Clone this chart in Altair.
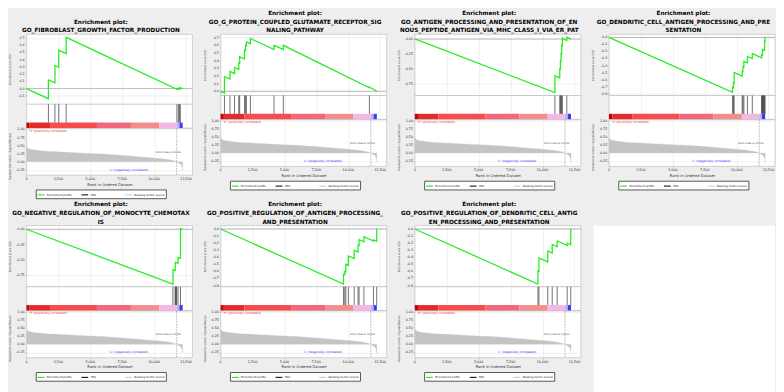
import altair as alt
import pandas as pd

FONT = "DejaVu Sans"
GREEN = "#22ee22"
HIT_COLOR = "#333333"
AREA_FILL = "#c4c4c4"

RANK_MAX = 13000
RANK_TICKS = [0, 2500, 5000, 7500, 10000, 12500]

# ranked list metric (same ranked list for every panel)
METRIC_RANK = [0, 50, 150, 300, 600, 1000, 1500, 2500, 3500, 5000, 6000, 7500,
               9000, 10000, 10800, 11300, 11600, 11760, 11900, 12050, 12150, 12200, 12230]
METRIC_VALUE = [0.47, 0.44, 0.41, 0.39, 0.37, 0.35, 0.33, 0.31, 0.29, 0.26, 0.24, 0.20,
                0.15, 0.12, 0.09, 0.06, 0.03, 0.00, -0.03, -0.07, -0.12, -0.20, -0.28]
ZERO_CROSS = 11760

# colour bar segments (rank start / end)
BAR_START = [0, 250, 1850, 5520, 8180, 10400, 11770, 11980]
BAR_END = [250, 1850, 5520, 8180, 10400, 11770, 11980, 12230]
BAR_COLORS = ["#c80000", "#e52a2a", "#f64c4c", "#f2687a", "#f58c8c", "#f5b8e6", "#b4b4f4", "#3a3af0"]

LEGEND_LABELS = ["Enrichment profile", "Hits", "Ranking metric scores"]
LEGEND_COLORS = [GREEN, "#222222", "#cfcfcf"]

TITLES = [
    ["Enrichment plot:", "GO_FIBROBLAST_GROWTH_FACTOR_PRODUCTION"],
    ["Enrichment plot:", "GO_G_PROTEIN_COUPLED_GLUTAMATE_RECEPTOR_SIG", "NALING_PATHWAY"],
    ["Enrichment plot:", "GO_ANTIGEN_PROCESSING_AND_PRESENTATION_OF_EN",
     "NOUS_PEPTIDE_ANTIGEN_VIA_MHC_CLASS_I_VIA_ER_PAT"],
    ["Enrichment plot:", "GO_DENDRITIC_CELL_ANTIGEN_PROCESSING_AND_PRE", "SENTATION"],
    ["Enrichment plot:", "GO_NEGATIVE_REGULATION_OF_MONOCYTE_CHEMOTAX", "IS"],
    ["Enrichment plot:", "GO_POSITIVE_REGULATION_OF_ANTIGEN_PROCESSING_", "AND_PRESENTATION"],
    ["Enrichment plot:", "GO_POSITIVE_REGULATION_OF_DENDRITIC_CELL_ANTIG",
     "EN_PROCESSING_AND_PRESENTATION"],
]

ES1_RANK = [0, 1720, 1720, 2230, 2230, 2530, 2530, 3110, 3110, 11780, 11780, 11900, 11900,
            11980, 11980, 12050, 12050, 12230]
ES1_SCORE = [0.0, -0.14, 0.12, 0.08, 0.32, 0.295, 0.53, 0.485, 0.71, -0.01, 0.0, -0.01, 0.002,
             -0.005, 0.007, 0.001, 0.012, 0.0]
HITS1 = [1720, 2230, 2530, 3110, 11780, 11900, 11980, 12050]

ES2_RANK = [0, 300, 300, 730, 730, 1090, 1090, 1420, 1420, 1490, 1490, 1870, 1870, 1950, 1950,
            2020, 2020, 2330, 2330, 4180, 4180, 4910, 4910, 11650, 11650, 12230]
ES2_SCORE = [0.0, -0.025, 0.19, 0.16, 0.26, 0.23, 0.31, 0.285, 0.37, 0.365, 0.45, 0.42, 0.54,
             0.535, 0.60, 0.595, 0.645, 0.62, 0.69, 0.545, 0.60, 0.545, 0.60, 0.045, 0.055, 0.0]
HITS2 = [300, 730, 1090, 1420, 1490, 1870, 1950, 2020, 2330, 4180, 4910, 11650]

ES3_RANK = [0, 10970, 10970, 11350, 11350, 11400, 11400, 11450, 11450, 11500, 11500, 11550,
            11550, 11900, 11900, 12230]
ES3_SCORE = [0.0, -0.893, -0.612, -0.648, -0.50, -0.505, -0.37, -0.375, -0.24, -0.245, -0.11,
             -0.115, 0.015, -0.025, 0.03, 0.0]
HITS3 = [10970, 11350, 11400, 11450, 11500, 11550, 11900]

ES4_RANK = [0, 9670, 9670, 9745, 9745, 9800, 9800, 10430, 10430, 10485, 10485, 10560, 10560,
            10840, 10840, 11220, 11220, 11940, 11940, 12020, 12020, 12180, 12180, 12220, 12220, 12230]
ES4_SCORE = [0.0, -0.78, -0.71, -0.716, -0.645, -0.65, -0.50, -0.55, -0.48, -0.485, -0.42,
             -0.426, -0.34, -0.36, -0.27, -0.30, -0.23, -0.29, -0.25, -0.256, -0.17, -0.183,
             -0.05, -0.053, 0.0, 0.0]
HITS4 = [9670, 9745, 9800, 10430, 10485, 10560, 10840, 11220, 11940, 11980, 12020, 12060,
         12100, 12140, 12180, 12220]

ES5_RANK = [0, 11470, 11470, 11650, 11650, 11870, 11870, 12060, 12060, 12230]
ES5_SCORE = [0.0, -0.895, -0.66, -0.675, -0.54, -0.555, -0.46, -0.475, 0.012, 0.0]
HITS5 = [11470, 11640, 11680, 11720, 11760, 11870, 12060]

ES6_RANK = [0, 9620, 9620, 9720, 9720, 9800, 9800, 10000, 10000, 10460, 10460, 10760, 10760,
            10840, 10840, 11220, 11220, 11970, 11970, 12220, 12220, 12230]
ES6_SCORE = [0.0, -0.78, -0.64, -0.648, -0.60, -0.607, -0.50, -0.516, -0.38, -0.418, -0.30,
             -0.325, -0.23, -0.236, -0.15, -0.18, -0.11, -0.17, -0.155, -0.175, 0.0, 0.0]
HITS6 = [9620, 9720, 9800, 10000, 10460, 10760, 10840, 11220, 11970, 12220]

ES7_RANK = [0, 9640, 9640, 9720, 9720, 10410, 10410, 10760, 10760, 11150, 11150, 11930, 11930,
            12210, 12210, 12230]
ES7_SCORE = [0.0, -0.78, -0.59, -0.597, -0.41, -0.466, -0.31, -0.339, -0.22, -0.252, -0.17,
             -0.234, -0.20, -0.223, 0.0, 0.0]
HITS7 = [9640, 9720, 10410, 10760, 11150, 11930, 12210]

ES_RANKS = [ES1_RANK, ES2_RANK, ES3_RANK, ES4_RANK, ES5_RANK, ES6_RANK, ES7_RANK]
ES_SCORES = [ES1_SCORE, ES2_SCORE, ES3_SCORE, ES4_SCORE, ES5_SCORE, ES6_SCORE, ES7_SCORE]
HITS = [HITS1, HITS2, HITS3, HITS4, HITS5, HITS6, HITS7]

ES_DOMAINS = [[-0.217, 0.752], [-0.056, 0.744], [-0.94, 0.077], [-0.826, 0.044],
              [-0.94, 0.06], [-0.817, 0.048], [-0.817, 0.048]]
TICKS_POS1 = [-0.1, 0.0, 0.1, 0.2, 0.3, 0.4, 0.5, 0.6, 0.7]
TICKS_POS2 = [0.0, 0.1, 0.2, 0.3, 0.4, 0.5, 0.6, 0.7]
TICKS_Q = [0.0, -0.25, -0.5, -0.75]
TICKS_NEG = [0.0, -0.1, -0.2, -0.3, -0.4, -0.5, -0.6, -0.7, -0.8]
ES_TICKS = [TICKS_POS1, TICKS_POS2, TICKS_Q, TICKS_NEG, TICKS_Q, TICKS_NEG, TICKS_NEG]
ES_FORMATS = [".1f", ".1f", ".2f", ".1f", ".2f", ".1f", ".1f"]
METRIC_TICKS = [1.0, 0.75, 0.5, 0.25, 0.0, -0.25]

# ---- layout sizes ----
W = 171
ES_H_2LINE = 72
ES_H_3LINE = 63
HITS_H = 24.5
RANK_H = 48
TITLE_X = -15
LBL = 3.4
LBL_COLOR = "#2a2a2a"

xscale = alt.Scale(domain=[0, RANK_MAX], nice=False, zero=False)
hidden_x = alt.Axis(values=RANK_TICKS, labels=False, ticks=False, domain=False, title=None, grid=True)


def y_labels(values, scale, fmt, axis):
    # tick labels of a y axis, placed through the y scale
    return alt.Chart(pd.DataFrame({"v": values})).mark_text(
        align="right", baseline="middle", fontSize=LBL, font=FONT, color=LBL_COLOR, dx=-1.8
    ).encode(
        y=alt.Y("v:Q", scale=scale, axis=axis),
        x=alt.value(0),
        text=alt.Text("v:Q", format=fmt),
    )


def make_panel(k):
    es_df = pd.DataFrame({"r": ES_RANKS[k], "es": ES_SCORES[k], "i": list(range(len(ES_RANKS[k])))})
    es_h = ES_H_2LINE if len(TITLES[k]) == 2 else ES_H_3LINE
    yscale = alt.Scale(domain=ES_DOMAINS[k], nice=False, zero=False)
    es_axis = alt.Axis(values=ES_TICKS[k], labels=False, title="Enrichment score (ES)",
                       titleX=TITLE_X, titleFontSize=2.9, tickSize=1.2, grid=True)
    zero_rule = alt.Chart(pd.DataFrame({"z": [0]})).mark_rule(color="#8a8a8a", strokeWidth=0.6).encode(
        y=alt.YDatum(0, scale=yscale)
    )
    line = alt.Chart(es_df).mark_line(color=GREEN, strokeWidth=1.3).encode(
        x=alt.X("r:Q", scale=xscale, axis=hidden_x),
        y=alt.Y("es:Q", scale=yscale, axis=es_axis),
        order="i:Q",
    )
    es_lbl = y_labels(ES_TICKS[k], yscale, ES_FORMATS[k], es_axis)
    es = alt.layer(zero_rule, line, es_lbl).properties(width=W, height=es_h)

    bar_df = pd.DataFrame({"s": BAR_START, "e": BAR_END, "c": BAR_COLORS})
    hit_df = pd.DataFrame({"h": HITS[k]})
    hscale = alt.Scale(domain=[0, 1], nice=False, zero=False)
    bar = alt.Chart(bar_df).mark_rect(strokeWidth=0).encode(
        x=alt.X("s:Q", scale=xscale, axis=hidden_x),
        x2="e:Q",
        y=alt.YDatum(0, scale=hscale, axis=None),
        y2=alt.datum(0.23),
        color=alt.Color("c:N", scale=None),
    )
    hits = alt.Chart(hit_df).mark_rule(color=HIT_COLOR, strokeWidth=0.7).encode(
        x=alt.X("h:Q", scale=xscale, axis=hidden_x),
        y=alt.YDatum(0.23, scale=hscale, axis=None),
        y2=alt.datum(1.0),
    )
    hits_panel = alt.layer(bar, hits).properties(width=W, height=HITS_H)

    rank_df = pd.DataFrame({"r": METRIC_RANK, "m": METRIC_VALUE,
                            "lbl": ["Ranking metric scores"] * len(METRIC_RANK)})
    mscale = alt.Scale(domain=[-0.41, 1.03], nice=False, zero=False)
    rank_xaxis = alt.Axis(values=RANK_TICKS, labels=False, title="Rank in Ordered Dataset",
                          titleFontSize=3.8, tickSize=1.5, titlePadding=5.6, grid=True)
    rank_yaxis = alt.Axis(values=METRIC_TICKS, labels=False,
                          title="Ranked list metric (Signal2Noise)", titleX=TITLE_X,
                          titleY=RANK_H / 2 + 4, titleFontSize=2.9, tickSize=1.2, grid=True)
    legend = alt.Legend(title=None, orient="none", legendX=9.6, legendY=RANK_H + 14.8,
                        direction="horizontal", columns=3, gridAlign="all",
                        symbolType="stroke", symbolSize=49,
                        symbolStrokeWidth=1.2, labelFontSize=2.8, labelFont=FONT, labelOffset=1.5,
                        columnPadding=1, padding=1, strokeColor="#555555", fillColor="white",
                        labelColor="black")
    area = alt.Chart(rank_df).mark_area(fill=AREA_FILL, strokeWidth=0.3).encode(
        x=alt.X("r:Q", scale=xscale, axis=rank_xaxis),
        y=alt.Y("m:Q", scale=mscale, stack=None, axis=rank_yaxis),
        stroke=alt.Stroke("lbl:N", scale=alt.Scale(domain=LEGEND_LABELS, range=LEGEND_COLORS),
                          legend=legend),
    )
    one = pd.DataFrame({"a": [0]})
    zc_rule = alt.Chart(one).mark_rule(color="#666666", strokeWidth=0.5, strokeDash=[1.5, 1.2]).encode(
        x=alt.datum(ZERO_CROSS)
    )
    txt_h = alt.Chart(one).mark_text(text="'H' (positively correlated)", align="left", baseline="middle",
                                     fontSize=3.1, font=FONT, color="#ff2a2a").encode(
        x=alt.datum(200), y=alt.datum(0.96))
    txt_l = alt.Chart(one).mark_text(text="'L' (negatively correlated)", align="center", baseline="middle",
                                     fontSize=3.1, font=FONT, color="#3535ff").encode(
        x=alt.datum(8000), y=alt.datum(-0.24))
    txt_z = alt.Chart(one).mark_text(text="Zero cross at " + str(ZERO_CROSS), align="right",
                                     baseline="middle", fontSize=2.6, font=FONT, color="#444444").encode(
        x=alt.datum(12100), y=alt.datum(0.31))
    m_lbl = y_labels(METRIC_TICKS, mscale, ".2f", rank_yaxis)
    x_lbl = alt.Chart(pd.DataFrame({"v": RANK_TICKS})).mark_text(
        align="center", baseline="middle", fontSize=LBL, font=FONT, color=LBL_COLOR
    ).encode(
        x=alt.X("v:Q", scale=xscale, axis=rank_xaxis),
        y=alt.value(RANK_H + 4.1),
        text=alt.Text("v:Q", format=","),
    )
    ranked = alt.layer(area, zc_rule, txt_h, txt_l, txt_z, m_lbl, x_lbl).properties(width=W, height=RANK_H)

    p = alt.vconcat(es, hits_panel, ranked, spacing=0, bounds="flush",
                    title=alt.TitleParams(text=TITLES[k]))
    return p.resolve_scale(stroke="independent").resolve_legend(stroke="independent")


panels = [make_panel(k) for k in range(7)]

blank = alt.Chart(pd.DataFrame({"a": [0]})).mark_point(opacity=0).encode(
    x=alt.value(0), y=alt.value(0)
).properties(width=187, height=190, view=alt.ViewBackground(fill="white", strokeOpacity=0))

H_SP = 9.0
row1 = alt.hconcat(*panels[:4], spacing=H_SP).resolve_scale(stroke="independent").resolve_legend(stroke="independent")
row2 = alt.hconcat(*panels[4:], blank, spacing=H_SP).resolve_scale(stroke="independent").resolve_legend(stroke="independent")

chart = alt.vconcat(row1, row2, spacing=2).resolve_scale(stroke="independent").resolve_legend(
    stroke="independent"
).properties(padding={"top": -4, "left": 0, "right": 0, "bottom": 0}, background="#eeeeee")

chart = chart.configure(
    locale={"number": {"decimal": ".", "thousands": ",", "grouping": [3],
                       "currency": ["$", ""], "minus": "-"}}
).configure_axis(
    labelFont=FONT, titleFont=FONT, titleFontWeight="normal", labelColor="#222222",
    titleColor="#333333", gridColor="#e2e2e2", gridWidth=0.5, tickColor="#888888",
    tickWidth=0.5, domain=False
).configure_view(
    fill="white", stroke="#a9a9a9", strokeWidth=0.5
).configure_title(
    font=FONT, fontSize=5.9, fontWeight="bold", lineHeight=8.9, offset=1, color="black",
    anchor="middle"
)

chart.save("out.html", embed_options={"renderer": "svg", "actions": False})
